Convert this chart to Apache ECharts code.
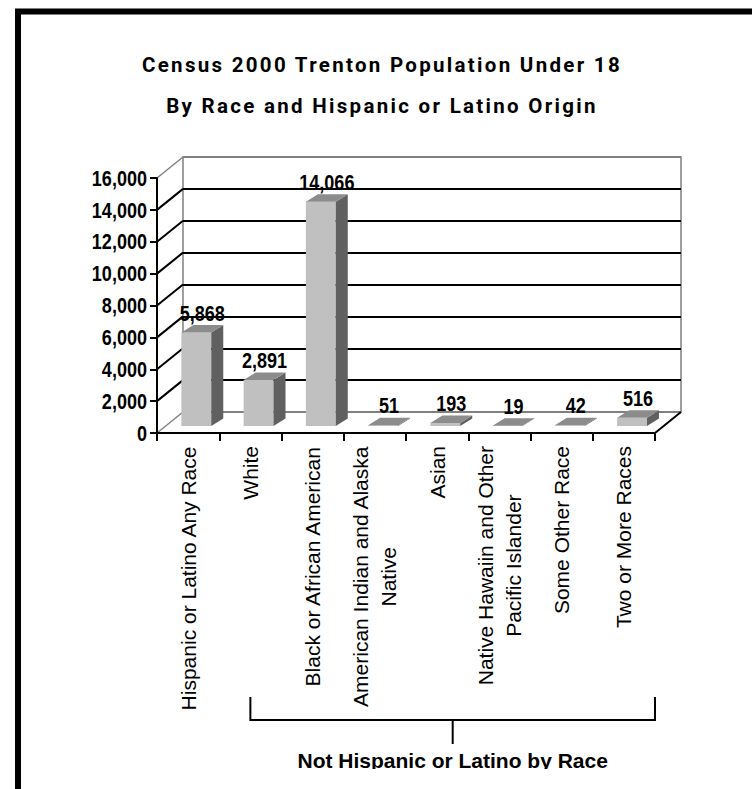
<!DOCTYPE html>
<html><head><meta charset="utf-8">
<script src="https://cdn.jsdelivr.net/npm/echarts@6/dist/echarts.min.js"></script>
<style>
html,body{margin:0;padding:0;background:#fff;}
#chart{width:752px;height:789px;}
#chart svg text[style*="Roboto"]{letter-spacing:2.3px;}
</style></head><body><div id="chart"></div>
<script>
// ---- data ----
const titleLine1 = 'Census 2000 Trenton Population Under 18';
const titleLine2 = 'By Race and Hispanic or Latino Origin';
const categories = [
  'Hispanic or Latino Any Race',
  'White',
  'Black or African American',
  'American Indian and Alaska\nNative',
  'Asian',
  'Native Hawaiin and Other\nPacific Islander',
  'Some Other Race',
  'Two or More Races'
];
const values = [5868, 2891, 14066, 51, 193, 19, 42, 516];
const yTicks = [0, 2000, 4000, 6000, 8000, 10000, 12000, 14000, 16000];
const groupLabel = 'Not Hispanic or Latino by Race';
const groupFrom = 1, groupTo = 7;

// ---- layout / style ----
const W = 752, H = 789;
const FRONT = {left: 157, top: 178, width: 498, height: 255};
const DX = 26, DY = 21;             // depth of the 3D box
const BAR_DX = 8.2, BAR_DY = 7;     // plane where bars stand
const SIDE_X = 12, SIDE_Y = 7.5;    // bar depth
const BAR_W = 0.48;
const NARROW_SCALE = 0.82;          // emulates a narrow bold face
const SANS = "'Liberation Sans',Arial,Helvetica,sans-serif";
const GREY = '#808080';
const fmt = v => Number(v).toLocaleString('en-US');

const chart = echarts.init(document.getElementById('chart'), null, {renderer: 'svg', width: W, height: H});

function narrowText(text, x, y, align) {
  return {type: 'text', x: x, y: y, scaleX: NARROW_SCALE, scaleY: 1,
    style: {text: text, x: 0, y: 0, align: align, verticalAlign: 'middle',
      fontFamily: SANS, fontWeight: 'bold', fontSize: 22, fill: '#000'}};
}

function renderFrame(params, api) {
  const ci = api.value(0), v = api.value(1), side = api.value(2);
  const p = api.coord([ci, v]);
  const cw = api.size([1, 0])[0];
  const x0 = p[0] + side * cw / 2;
  const edge = side < 0 && (v === yTicks[0] || v === yTicks[yTicks.length - 1]);
  const children = [{
    type: 'line',
    shape: {x1: x0, y1: p[1], x2: x0 + DX, y2: p[1] - DY},
    style: {stroke: edge ? GREY : '#000', lineWidth: edge ? 1.5 : 2}
  }];
  if (side < 0) children.push(narrowText(fmt(v), x0 - 10, p[1], 'right'));
  return {type: 'group', children: children};
}

function renderBar(params, api) {
  const i = api.value(0), v = api.value(1);
  const base = api.coord([i, 0]), top = api.coord([i, v]);
  const cw = api.size([1, 0])[0];
  const w = cw * BAR_W;
  const xl = base[0] + BAR_DX - w / 2, xr = xl + w;
  const yb = base[1] - BAR_DY, yt = top[1] - BAR_DY;
  return {
    type: 'group',
    children: [
      {type: 'rect', shape: {x: xl, y: yt, width: w, height: yb - yt}, style: {fill: '#c0c0c0'}},
      {type: 'polygon', shape: {points: [[xr, yt], [xr + SIDE_X, yt - SIDE_Y], [xr + SIDE_X, yb - SIDE_Y], [xr, yb]]}, style: {fill: '#606060'}},
      {type: 'polygon', shape: {points: [[xl, yt], [xl + SIDE_X, yt - SIDE_Y], [xr + SIDE_X, yt - SIDE_Y], [xr, yt]]}, style: {fill: '#8c8c8c'}},
      narrowText(fmt(v), (xl + xr + SIDE_X) / 2, yt - SIDE_Y - 12, 'center')
    ]
  };
}

const frameData = yTicks.map(v => [0, v, -1]).concat([[categories.length - 1, 0, 1]]);

chart.setOption({
  animation: false,
  backgroundColor: '#fff',
  title: {
    text: titleLine1 + '\n' + titleLine2,
    left: 382, top: 44.5, padding: 0, textAlign: 'center',
    textStyle: {fontFamily: 'Roboto', fontWeight: 'bold', fontSize: 20.5, lineHeight: 41, color: '#000'}
  },
  grid: [
    {left: FRONT.left, top: FRONT.top, width: FRONT.width, height: FRONT.height},
    {left: FRONT.left + DX, top: FRONT.top - DY, width: FRONT.width, height: FRONT.height,
     show: true, borderColor: GREY, borderWidth: 1.5, backgroundColor: 'transparent'}
  ],
  xAxis: [
    {gridIndex: 0, type: 'category', data: categories, boundaryGap: true, z: 10,
     axisLine: {lineStyle: {color: '#000', width: 2}},
     axisTick: {show: true, length: 8, lineStyle: {color: '#000', width: 2}},
     axisLabel: {interval: 0, rotate: 90, margin: 13, color: '#000',
       formatter: v => v.split('\n').map(s => '{c|' + s + '}').join('\n'),
       rich: {c: {align: 'center', fontFamily: SANS, fontSize: 21, lineHeight: 28, color: '#000'}}},
     splitLine: {show: false}},
    {gridIndex: 1, type: 'category', data: categories, show: false}
  ],
  yAxis: [
    {gridIndex: 0, type: 'value', min: yTicks[0], max: yTicks[yTicks.length - 1], interval: yTicks[1] - yTicks[0], z: 10,
     axisLine: {show: true, lineStyle: {color: '#000', width: 2}},
     axisTick: {show: true, length: 7, lineStyle: {color: '#000', width: 2}},
     axisLabel: {show: false},
     splitLine: {show: false}},
    {gridIndex: 1, type: 'value', min: yTicks[0], max: yTicks[yTicks.length - 1], interval: yTicks[1] - yTicks[0],
     axisLine: {show: false}, axisTick: {show: false}, axisLabel: {show: false},
     splitLine: {show: true, lineStyle: {width: 2,
       color: yTicks.map((v, i) => (i === 0 || i === yTicks.length - 1) ? GREY : '#000')}}}
  ],
  series: [
    {type: 'custom', name: 'frame', xAxisIndex: 0, yAxisIndex: 0, renderItem: renderFrame,
     data: frameData, encode: {x: 0, y: 1}, z: 3, silent: true},
    {type: 'custom', name: 'Population under 18', xAxisIndex: 0, yAxisIndex: 0, renderItem: renderBar,
     data: values.map((v, i) => [i, v]), encode: {x: 0, y: 1}, z: 5}
  ]
});

// bracket grouping the non-Hispanic categories
const pA = chart.convertToPixel({xAxisIndex: 0, yAxisIndex: 0}, [groupFrom, 0]);
const pB = chart.convertToPixel({xAxisIndex: 0, yAxisIndex: 0}, [groupTo, 0]);
const half = (pB[0] - pA[0]) / (groupTo - groupFrom) / 2;
const bx0 = pA[0], bx1 = pB[0] + half, bmid = (bx0 + bx1) / 2;
chart.setOption({
  graphic: [
    {type: 'rect', shape: {x: 18, y: 11.5, width: 900, height: 900}, style: {fill: 'none', stroke: '#000', lineWidth: 6}, z: 100},
    {type: 'polyline', shape: {points: [[bx0, 697], [bx0, 720], [bx1, 720], [bx1, 697]]}, style: {fill: 'none', stroke: '#000', lineWidth: 2}},
    {type: 'line', shape: {x1: bmid, y1: 720, x2: bmid, y2: 744}, style: {stroke: '#000', lineWidth: 2}},
    {type: 'text', style: {text: groupLabel, x: bmid, y: 760, align: 'center', verticalAlign: 'middle',
      fontFamily: SANS, fontWeight: 'bold', fontSize: 21, fill: '#000'}, z: 50},
    {type: 'rect', shape: {x: 22, y: 769, width: 740, height: 30}, style: {fill: '#fff'}, z: 60}
  ]
});
</script></body></html>
